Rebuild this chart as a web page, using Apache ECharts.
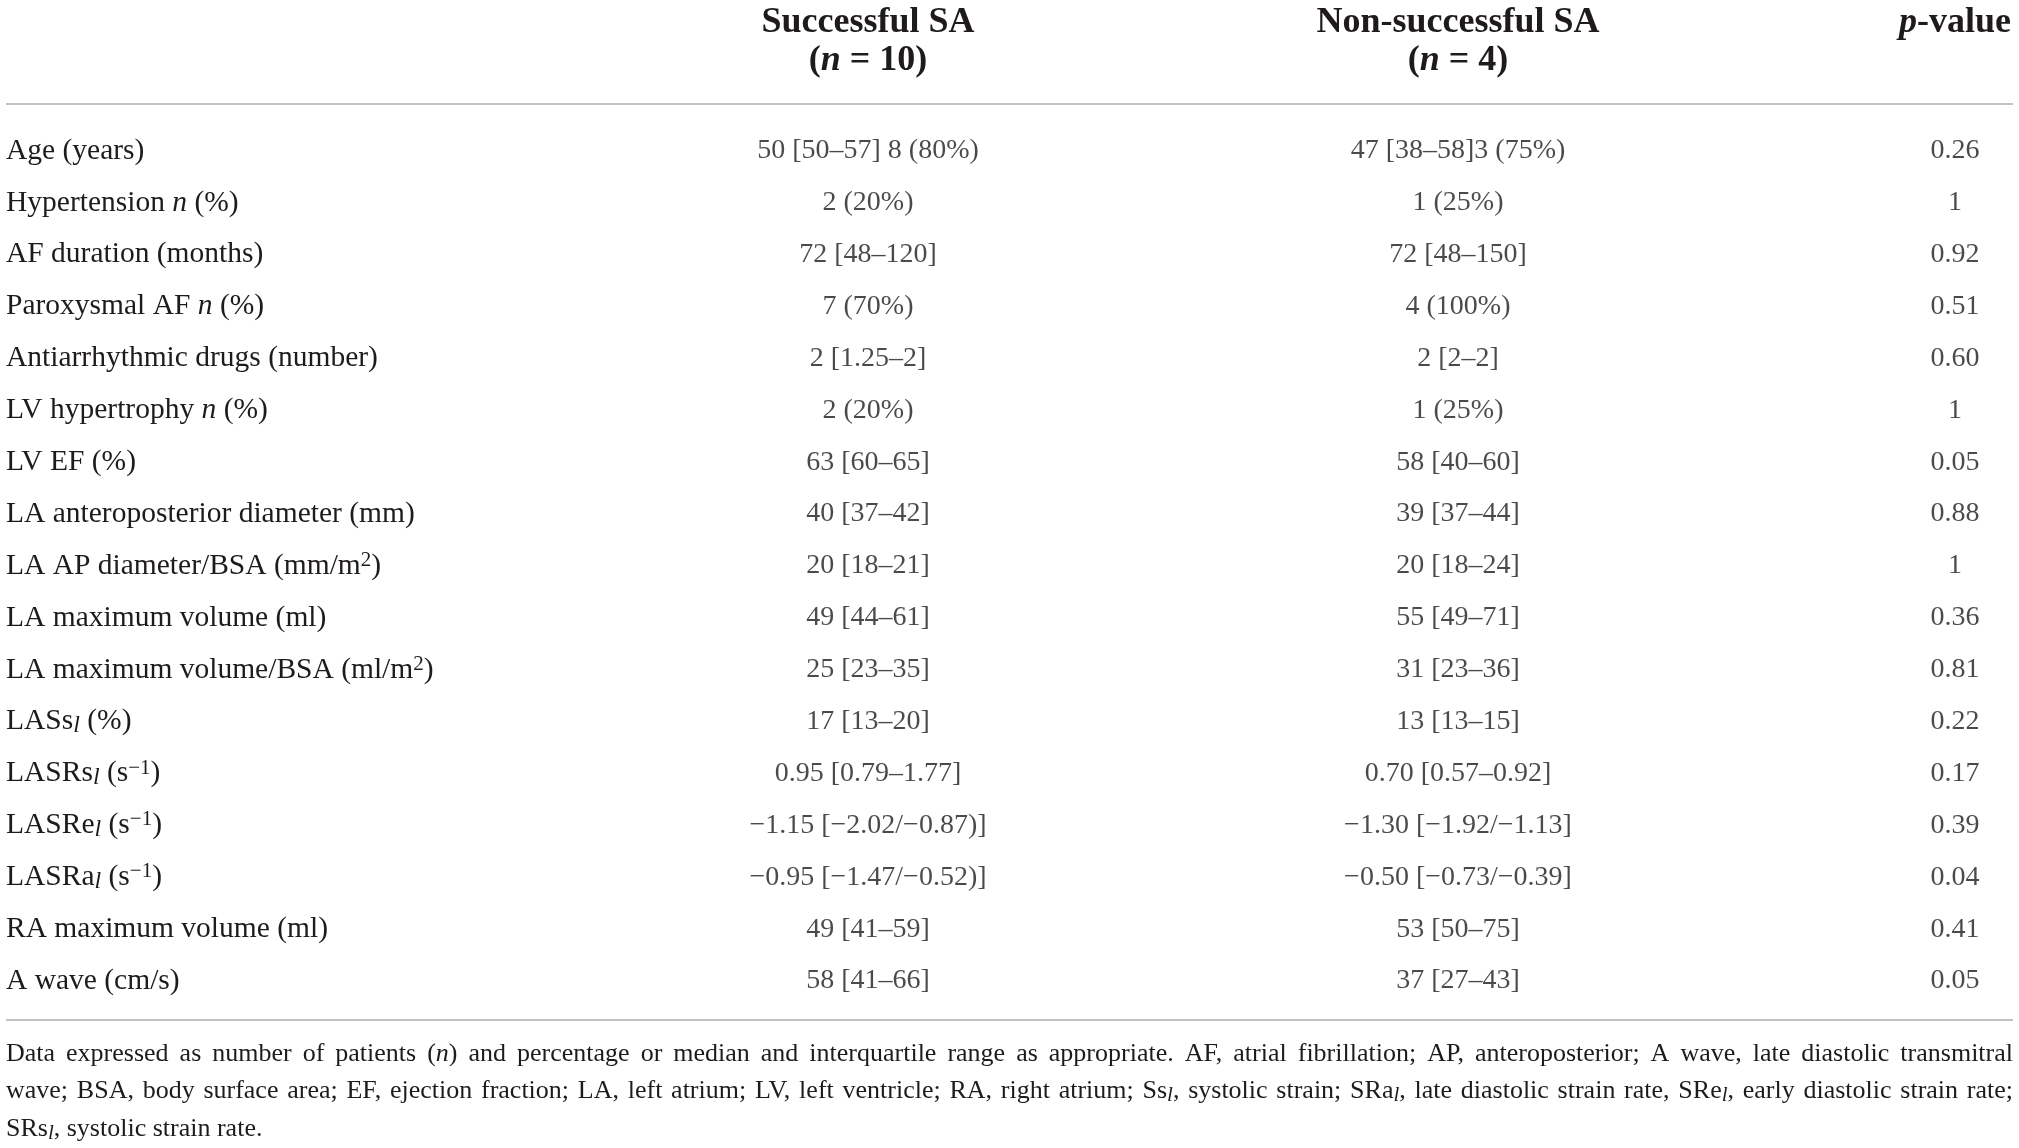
<!DOCTYPE html>
<html>
<head>
<meta charset="utf-8">
<title>Successful vs non-successful SA</title>
<script src="https://cdn.jsdelivr.net/npm/echarts@6/dist/echarts.min.js"></script>
<style>
html, body { margin: 0; padding: 0; background: #fff; }
#main { width: 2019px; height: 1148px; }
</style>
</head>
<body>
<div id="main"></div>
<script>
// row labels  (*x* = italic, _l = subscript l, ^x = superscript)
var rowNames = [
    'Age (years)',
    'Hypertension *n* (%)',
    'AF duration (months)',
    'Paroxysmal AF *n* (%)',
    'Antiarrhythmic drugs (number)',
    'LV hypertrophy *n* (%)',
    'LV EF (%)',
    'LA anteroposterior diameter (mm)',
    'LA AP diameter/BSA (mm/m^2)',
    'LA maximum volume (ml)',
    'LA maximum volume/BSA (ml/m^2)',
    'LASs_l (%)',
    'LASRs_l (s^−1)',
    'LASRe_l (s^−1)',
    'LASRa_l (s^−1)',
    'RA maximum volume (ml)',
    'A wave (cm/s)'
];
var successful = [
    '50 [50–57] 8 (80%)', '2 (20%)', '72 [48–120]', '7 (70%)', '2 [1.25–2]', '2 (20%)',
    '63 [60–65]', '40 [37–42]', '20 [18–21]', '49 [44–61]', '25 [23–35]', '17 [13–20]',
    '0.95 [0.79–1.77]', '−1.15 [−2.02/−0.87)]', '−0.95 [−1.47/−0.52)]', '49 [41–59]', '58 [41–66]'
];
var nonSuccessful = [
    '47 [38–58]3 (75%)', '1 (25%)', '72 [48–150]', '4 (100%)', '2 [2–2]', '1 (25%)',
    '58 [40–60]', '39 [37–44]', '20 [18–24]', '55 [49–71]', '31 [23–36]', '13 [13–15]',
    '0.70 [0.57–0.92]', '−1.30 [−1.92/−1.13]', '−0.50 [−0.73/−0.39]', '53 [50–75]', '37 [27–43]'
];
var pValues = [
    '0.26', '1', '0.92', '0.51', '0.60', '1', '0.05', '0.88', '1',
    '0.36', '0.81', '0.22', '0.17', '0.39', '0.04', '0.41', '0.05'
];
var headers = [
    'Successful SA\n({bi|n} = 10)',
    'Non-successful SA\n({bi|n} = 4)',
    '{bi|p}-value'
];
var footLines = [
    'Data expressed as number of patients (*n*) and percentage or median and interquartile range as appropriate. AF, atrial fibrillation; AP, anteroposterior; A wave, late diastolic transmitral',
    'wave; BSA, body surface area; EF, ejection fraction; LA, left atrium; LV, left ventricle; RA, right atrium; Ss_l, systolic strain; SRa_l, late diastolic strain rate, SRe_l, early diastolic strain rate;',
    'SRs_l, systolic strain rate.'
];

var FONT = '"Liberation Serif", "DejaVu Serif", serif';
var INK = '#1f1b1c';
var RULE = '#c2c2c2';
var COL_X = [868, 1458, 1955];   // column centres (px)
var LEFT = 6, RIGHT = 2013;
var LABEL_FS = 29.5, VALUE_FS = 28, HEAD_FS = 36;

var chart = echarts.init(document.getElementById('main'));

// markup -> echarts rich text
function toRich(s) {
    return s.replace(/\*([^*]+)\*/g, '{i|$1}')
            .replace(/_l/g, '{sub|l}')
            .replace(/\^([^)\s]+)/g, '{sup|$1}');
}

var rowRich = {
    i: { fontStyle: 'italic', fontSize: LABEL_FS, fontFamily: FONT, color: INK, lineHeight: 32 },
    sub: { fontStyle: 'italic', fontSize: 24, fontFamily: FONT, color: INK, lineHeight: 18, verticalAlign: 'bottom' },
    sup: { fontSize: 21, fontFamily: FONT, color: INK, lineHeight: 18, verticalAlign: 'top' }
};

function colSeries(vals, x) {
    return {
        type: 'scatter',
        symbolSize: 1,
        itemStyle: { color: 'transparent' },
        silent: true,
        emphasis: { disabled: true },
        data: rowNames.map(function (r) { return [x, r]; }),
        label: {
            show: true,
            position: 'inside',
            formatter: function (p) { return vals[p.dataIndex]; },
            fontSize: VALUE_FS,
            fontFamily: FONT,
            color: INK
        }
    };
}

// footnote: justified lines, measured with canvas
var ctx = document.createElement('canvas').getContext('2d');
var FS = 26;
var fonts = {
    r: FS + 'px ' + FONT,
    i: 'italic ' + FS + 'px ' + FONT,
    s: 'italic ' + Math.round(FS * 0.8) + 'px ' + FONT
};
function pieces(word) {
    var out = [];
    word.split(/(\*[^*]+\*|_l)/).forEach(function (p) {
        if (!p) return;
        if (p[0] === '*') out.push(['i', p.slice(1, -1)]);
        else if (p === '_l') out.push(['s', 'l']);
        else out.push(['r', p]);
    });
    return out;
}
function footElement(line, y, justify) {
    var words = line.split(' ');
    var total = 0;
    var parts = words.map(function (w) {
        return pieces(w).map(function (pc) {
            ctx.font = fonts[pc[0]];
            total += ctx.measureText(pc[1]).width;
            return pc[0] === 'r' ? pc[1] : '{' + pc[0] + '|' + pc[1] + '}';
        }).join('');
    });
    ctx.font = fonts.r;
    var space = ctx.measureText(' ').width;
    var target = RIGHT - LEFT;
    var gap = space, sx = 1;
    if (justify) {
        gap = (target - total) / (words.length - 1);
        if (gap < space * 0.8) {
            gap = space * 0.8;
            sx = target / (total + gap * (words.length - 1));
        }
    }
    return {
        type: 'text',
        x: LEFT,
        y: y,
        scaleX: sx,
        silent: true,
        style: {
            text: parts.join('{g| }'),
            fontSize: FS,
            fontFamily: FONT,
            fill: INK,
            align: 'left',
            verticalAlign: 'middle',
            lineHeight: 30,
            rich: {
                i: { fontStyle: 'italic', fontSize: FS, fontFamily: FONT, fill: INK, lineHeight: 30 },
                s: { fontStyle: 'italic', fontSize: Math.round(FS * 0.8), fontFamily: FONT, fill: INK, lineHeight: 18, verticalAlign: 'bottom' },
                g: { width: gap, fontSize: FS, fontFamily: FONT, lineHeight: 30 }
            }
        }
    };
}

var headRich = {
    bi: { fontStyle: 'italic', fontWeight: 'bold', fontSize: HEAD_FS, fontFamily: FONT, fill: INK, lineHeight: 38 }
};
function headElement(text, x, y) {
    return {
        type: 'text',
        x: x,
        y: y,
        silent: true,
        style: {
            text: text,
            fontSize: HEAD_FS,
            fontWeight: 'bold',
            fontFamily: FONT,
            fill: INK,
            align: 'center',
            verticalAlign: 'middle',
            lineHeight: 38,
            rich: headRich
        }
    };
}
function rule(y) {
    return {
        type: 'line',
        silent: true,
        shape: { x1: LEFT, y1: y, x2: RIGHT, y2: y },
        style: { stroke: RULE, lineWidth: 2 }
    };
}

var option = {
    animation: false,
    grid: { left: 0, right: 0, top: 125, bottom: 141 },
    xAxis: { type: 'value', min: 0, max: 2019, show: false },
    yAxis: {
        type: 'category',
        inverse: true,
        data: rowNames,
        axisLine: { show: false },
        axisTick: { show: false },
        splitLine: { show: false },
        axisLabel: {
            interval: 0,
            align: 'left',
            margin: -LEFT,
            fontSize: LABEL_FS,
            fontFamily: FONT,
            color: INK,
            lineHeight: 32,
            formatter: toRich,
            rich: rowRich
        }
    },
    series: [
        colSeries(successful, COL_X[0]),
        colSeries(nonSuccessful, COL_X[1]),
        colSeries(pValues, COL_X[2])
    ],
    graphic: {
        elements: [
            headElement(headers[0], COL_X[0], 42),
            headElement(headers[1], COL_X[1], 42),
            headElement(headers[2], COL_X[2], 23),
            rule(104),
            rule(1020),
            footElement(footLines[0], 1054, true),
            footElement(footLines[1], 1091, true),
            footElement(footLines[2], 1129, false)
        ]
    }
};

option && chart.setOption(option);
</script>
</body>
</html>
